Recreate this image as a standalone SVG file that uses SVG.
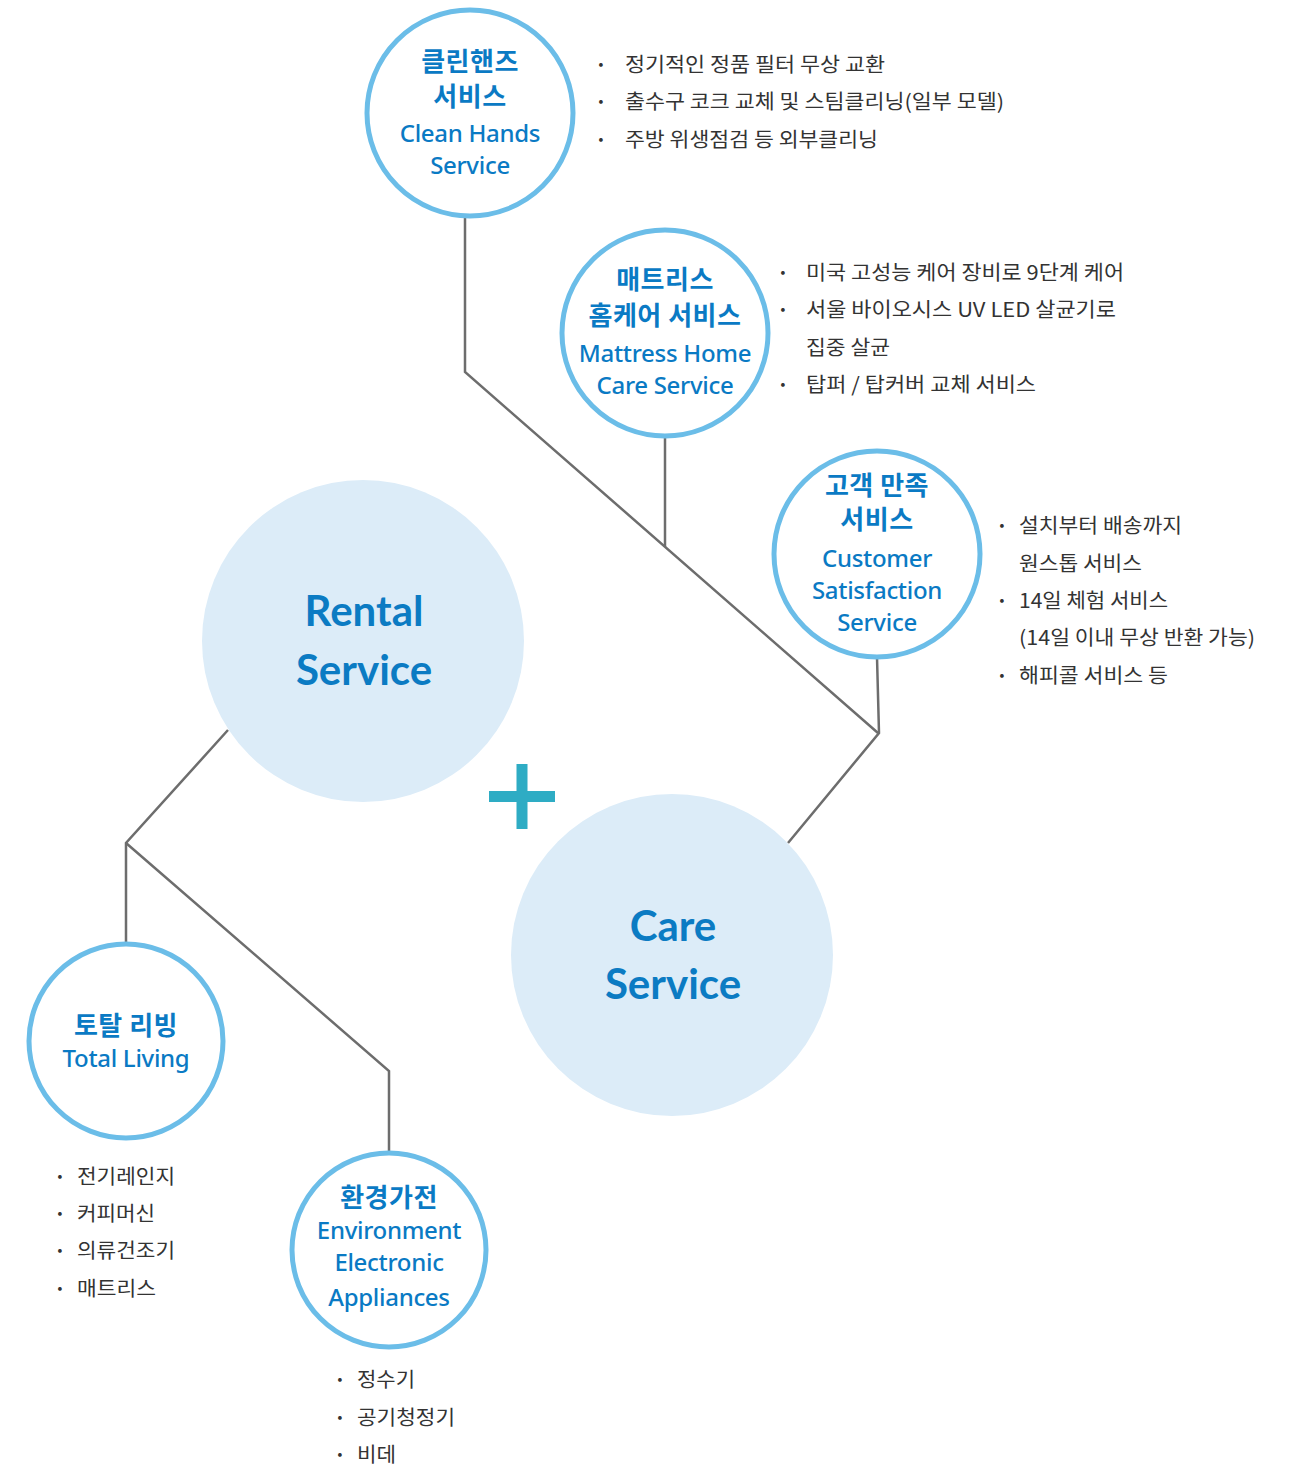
<svg xmlns="http://www.w3.org/2000/svg" width="1290" height="1468" viewBox="0 0 1290 1468">
<style>
.big{fill:#dcecf8}
.ring{fill:#ffffff;stroke:#6bbde8;stroke-width:5}
.conn{fill:none;stroke:#6d6d6d;stroke-width:2.5;stroke-linejoin:miter}
.main{font-family:Lato,"Noto Sans",sans-serif;font-weight:700;font-size:42px;fill:#0b7bc3;text-anchor:middle}
.ko{font-family:"Noto Sans CJK KR","Noto Sans",sans-serif;font-weight:700;font-size:26px;fill:#0a7ac4;text-anchor:middle;letter-spacing:0.5px}
.en{font-family:"Noto Sans","Noto Sans CJK KR",sans-serif;font-weight:500;font-size:24px;fill:#0a7ac4;text-anchor:middle;letter-spacing:-0.3px}
.bl{font-family:"Noto Sans CJK KR","Noto Sans",sans-serif;font-size:20px;fill:#333333}
.dot{font-family:"Noto Sans CJK KR",sans-serif;font-weight:700;font-size:20px;fill:#333333;text-anchor:middle}
</style>
<rect width="1290" height="1468" fill="#ffffff"/>
<g id="connectors">
<path class="conn" d="M465,216 V372 L878,733"/>
<path class="conn" d="M665,436 V547"/>
<path class="conn" d="M877,657 L879,733 L788,843"/>
<path class="conn" d="M228,730 L126,843 V944"/>
<path class="conn" d="M126,843 L389,1071 V1152"/>
</g>
<g id="rental">
<circle class="big" cx="363" cy="641" r="161"/>
<text class="main" x="364" y="626">Rental</text>
<text class="main" x="364" y="685">Service</text>
</g>
<g id="plus">
<rect x="489" y="791" width="66" height="11" fill="#2eacc4"/>
<rect x="516.5" y="764" width="11" height="65" fill="#2eacc4"/>
</g>
<g id="care">
<circle class="big" cx="672" cy="955" r="161"/>
<text class="main" x="673" y="941">Care</text>
<text class="main" x="673" y="999">Service</text>
</g>
<g id="clean-hands">
<circle class="ring" cx="470" cy="113" r="103"/>
<text class="ko" x="470" y="71">클린핸즈</text>
<text class="ko" x="470" y="106">서비스</text>
<text class="en" x="470" y="142">Clean Hands</text>
<text class="en" x="470" y="174">Service</text>
<text class="dot" x="601" y="72">·</text>
<text class="bl" x="625" y="72" textLength="260" lengthAdjust="spacingAndGlyphs">정기적인 정품 필터 무상 교환</text>
<text class="dot" x="601" y="109">·</text>
<text class="bl" x="625" y="109" textLength="379" lengthAdjust="spacingAndGlyphs">출수구 코크 교체 및 스팀클리닝(일부 모델)</text>
<text class="dot" x="601" y="147">·</text>
<text class="bl" x="625" y="147" textLength="253" lengthAdjust="spacingAndGlyphs">주방 위생점검 등 외부클리닝</text>
</g>
<g id="mattress">
<circle class="ring" cx="665" cy="333" r="103"/>
<text class="ko" x="665" y="289">매트리스</text>
<text class="ko" x="665" y="325">홈케어 서비스</text>
<text class="en" x="665" y="362">Mattress Home</text>
<text class="en" x="665" y="394">Care Service</text>
<text class="dot" x="783" y="280">·</text>
<text class="bl" x="806" y="280" textLength="318" lengthAdjust="spacingAndGlyphs">미국 고성능 케어 장비로 9단계 케어</text>
<text class="dot" x="783" y="317">·</text>
<text class="bl" x="806" y="317" textLength="310" lengthAdjust="spacingAndGlyphs">서울 바이오시스 UV LED 살균기로</text>
<text class="bl" x="806" y="355" textLength="84" lengthAdjust="spacingAndGlyphs">집중 살균</text>
<text class="dot" x="783" y="392">·</text>
<text class="bl" x="806" y="392" textLength="230" lengthAdjust="spacingAndGlyphs">탑퍼 / 탑커버 교체 서비스</text>
</g>
<g id="customer">
<circle class="ring" cx="877" cy="554" r="103"/>
<text class="ko" x="877" y="495">고객 만족</text>
<text class="ko" x="877" y="529">서비스</text>
<text class="en" x="877" y="567">Customer</text>
<text class="en" x="877" y="599">Satisfaction</text>
<text class="en" x="877" y="631">Service</text>
<text class="dot" x="1002" y="533">·</text>
<text class="bl" x="1019" y="533" textLength="163" lengthAdjust="spacingAndGlyphs">설치부터 배송까지</text>
<text class="bl" x="1019" y="571" textLength="123" lengthAdjust="spacingAndGlyphs">원스톱 서비스</text>
<text class="dot" x="1002" y="608">·</text>
<text class="bl" x="1019" y="608" textLength="149" lengthAdjust="spacingAndGlyphs">14일 체험 서비스</text>
<text class="bl" x="1019" y="645" textLength="236" lengthAdjust="spacingAndGlyphs">(14일 이내 무상 반환 가능)</text>
<text class="dot" x="1002" y="683">·</text>
<text class="bl" x="1019" y="683" textLength="149" lengthAdjust="spacingAndGlyphs">해피콜 서비스 등</text>
</g>
<g id="total-living">
<circle class="ring" cx="126" cy="1041" r="97"/>
<text class="ko" x="126" y="1035">토탈 리빙</text>
<text class="en" x="126" y="1067">Total Living</text>
<text class="dot" x="60" y="1184">·</text>
<text class="bl" x="77" y="1184" textLength="98" lengthAdjust="spacingAndGlyphs">전기레인지</text>
<text class="dot" x="60" y="1221">·</text>
<text class="bl" x="77" y="1221" textLength="78" lengthAdjust="spacingAndGlyphs">커피머신</text>
<text class="dot" x="60" y="1258">·</text>
<text class="bl" x="77" y="1258" textLength="98" lengthAdjust="spacingAndGlyphs">의류건조기</text>
<text class="dot" x="60" y="1296">·</text>
<text class="bl" x="77" y="1296" textLength="79" lengthAdjust="spacingAndGlyphs">매트리스</text>
</g>
<g id="environment">
<circle class="ring" cx="389" cy="1250" r="97"/>
<text class="ko" x="389" y="1207">환경가전</text>
<text class="en" x="389" y="1239">Environment</text>
<text class="en" x="389" y="1271">Electronic</text>
<text class="en" x="389" y="1306">Appliances</text>
<text class="dot" x="340" y="1387">·</text>
<text class="bl" x="357" y="1387" textLength="58" lengthAdjust="spacingAndGlyphs">정수기</text>
<text class="dot" x="340" y="1425">·</text>
<text class="bl" x="357" y="1425" textLength="98" lengthAdjust="spacingAndGlyphs">공기청정기</text>
<text class="dot" x="340" y="1462">·</text>
<text class="bl" x="357" y="1462" textLength="39" lengthAdjust="spacingAndGlyphs">비데</text>
</g>
</svg>
